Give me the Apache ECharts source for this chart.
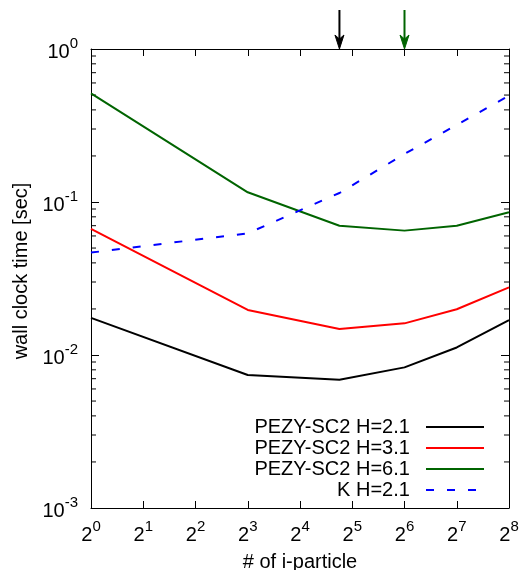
<!DOCTYPE html>
<html><head><meta charset="utf-8">
<script src="https://cdn.jsdelivr.net/npm/echarts@6/dist/echarts.min.js"></script>
<style>html,body{margin:0;padding:0;background:#fff}#c{width:520px;height:570px}</style>
</head><body><div id="c"></div>
<script>
// ---- data ----
const particles = [1, 8, 27, 64, 128, 256];
const sc2H21 = [0.0175, 0.0074, 0.0069, 0.0083, 0.0112, 0.0169];
const sc2H31 = [0.0667, 0.0197, 0.0148, 0.0161, 0.0199, 0.0277];
const sc2H61 = [0.513, 0.1157, 0.070, 0.065, 0.070, 0.0857];
const kH21 = [0.0467, 0.0624, 0.1145, 0.206, 0.319, 0.495];
const seriesNames = ['PEZY-SC2 H=2.1', 'PEZY-SC2 H=3.1', 'PEZY-SC2 H=6.1', 'K H=2.1'];
const seriesColors = ['#000000', '#ff0000', '#006400', '#0000ff'];
const arrowValues = [27, 64];
const arrowColors = ['#000000', '#006400'];
const yMinorTicks = [0.002,0.003,0.004,0.005,0.006,0.007,0.008,0.009,
                     0.02,0.03,0.04,0.05,0.06,0.07,0.08,0.09,
                     0.2,0.3,0.4,0.5,0.6,0.7,0.8,0.9];
const xTitle = '# of i-particle';
const yTitle = 'wall clock time [sec]';

const F = '"Liberation Sans", Arial, sans-serif';
const pair = (ys) => particles.map((x, i) => [x, ys[i]]);
const allSeries = [sc2H21, sc2H31, sc2H61, kH21];

const chart = echarts.init(document.getElementById('c'), null, {renderer: 'canvas'});

const baseX = {
  type: 'log', logBase: 2, min: 1, max: 256, splitNumber: 8,
  axisLine: {show: true, lineStyle: {color: '#000', width: 1}},
  axisTick: {show: true, inside: true, length: 7, lineStyle: {color: '#000'}},
  splitLine: {show: false}, minorTick: {show: false}
};
const baseY = {
  type: 'log', logBase: 10, min: 0.001, max: 1, splitNumber: 3,
  axisLine: {show: true, lineStyle: {color: '#000', width: 1}},
  axisTick: {show: true, inside: true, length: 8, lineStyle: {color: '#000'}},
  splitLine: {show: false}, minorTick: {show: false}
};

const option = {
  backgroundColor: '#fff',
  animation: false,
  grid: {left: 91, right: 11, top: 49, bottom: 62, containLabel: false, outerBoundsMode: 'none'},
  xAxis: [
    Object.assign({}, baseX, {
      position: 'bottom',
      axisLabel: {
        interval: 0, margin: 11, showMinLabel: true, showMaxLabel: true, hideOverlap: false,
        formatter: v => '{b|2}{s|' + Math.round(Math.log2(v)) + '}',
        rich: {
          b: {fontSize: 20, fontFamily: F, color: '#000', lineHeight: 26, verticalAlign: 'bottom'},
          s: {fontSize: 15, fontFamily: F, color: '#000', lineHeight: 26, verticalAlign: 'top'}
        }
      },
      name: xTitle, nameLocation: 'middle', nameGap: 44,
      nameTextStyle: {fontSize: 20, fontFamily: F, color: '#000'}
    }),
    Object.assign({}, baseX, {position: 'top', axisLabel: {show: false}})
  ],
  yAxis: [
    Object.assign({}, baseY, {
      position: 'left',
      axisLabel: {
        margin: 13, showMinLabel: true, showMaxLabel: true,
        formatter: v => '{b|10}{s|' + Math.round(Math.log10(v)) + '}',
        rich: {
          b: {fontSize: 20, fontFamily: F, color: '#000', lineHeight: 26, verticalAlign: 'bottom'},
          s: {fontSize: 15, fontFamily: F, color: '#000', lineHeight: 26, verticalAlign: 'top'}
        }
      },
      name: yTitle, nameLocation: 'middle', nameGap: 59,
      nameTextStyle: {fontSize: 20, fontFamily: F, color: '#000', padding: [0, 0, 0, 15]}
    }),
    Object.assign({}, baseY, {position: 'right', axisLabel: {show: false}})
  ],
  legend: {
    data: seriesNames, orient: 'vertical', right: 30, top: 412, align: 'right',
    itemWidth: 58, itemHeight: 14, itemGap: 1, selectedMode: false,
    itemStyle: {opacity: 0},
    formatter: name => name + '  ',
    textStyle: {fontSize: 20, fontFamily: F, color: '#000', lineHeight: 20}
  },
  series: allSeries.map((ys, i) => ({
    name: seriesNames[i], type: 'line', data: pair(ys),
    xAxisIndex: 0, yAxisIndex: 0, symbol: 'none', showSymbol: false,
    color: seriesColors[i],
    lineStyle: {color: seriesColors[i], width: 2, type: i === 3 ? [8, 13] : 'solid'},
    z: 3 + (i === 3 ? 1 : 0)
  })).concat([{
    type: 'custom', name: 'minorTicks', silent: true, xAxisIndex: 0, yAxisIndex: 0,
    data: yMinorTicks.map(v => [1, v]),
    renderItem: (params, api) => {
      const v = api.value(1);
      const pL = api.coord([1, v]);
      const pR = api.coord([256, v]);
      return {type: 'group', children: [
        {type: 'line', shape: {x1: pL[0], y1: pL[1], x2: pL[0] + 5, y2: pL[1]}, style: {stroke: '#000', lineWidth: 1}},
        {type: 'line', shape: {x1: pR[0] - 5, y1: pR[1], x2: pR[0], y2: pR[1]}, style: {stroke: '#000', lineWidth: 1}}
      ]};
    }
  }])
};
chart.setOption(option);

// arrows above the plot at the given x values
const topY = chart.convertToPixel({yAxisIndex: 0}, 1);
const arrows = [];
arrowValues.forEach((v, i) => {
  const x = chart.convertToPixel({xAxisIndex: 0}, v);
  const c = arrowColors[i];
  arrows.push({type: 'line', shape: {x1: x, y1: topY - 39, x2: x, y2: topY - 6}, style: {stroke: c, lineWidth: 2}, z: 10});
  arrows.push({type: 'polygon', shape: {points: [[x, topY], [x - 4.5, topY - 14], [x, topY - 10], [x + 4.5, topY - 14]]},
    style: {fill: c, stroke: c, lineWidth: 1}, z: 10});
});
chart.setOption({graphic: arrows});
</script>
</body></html>
